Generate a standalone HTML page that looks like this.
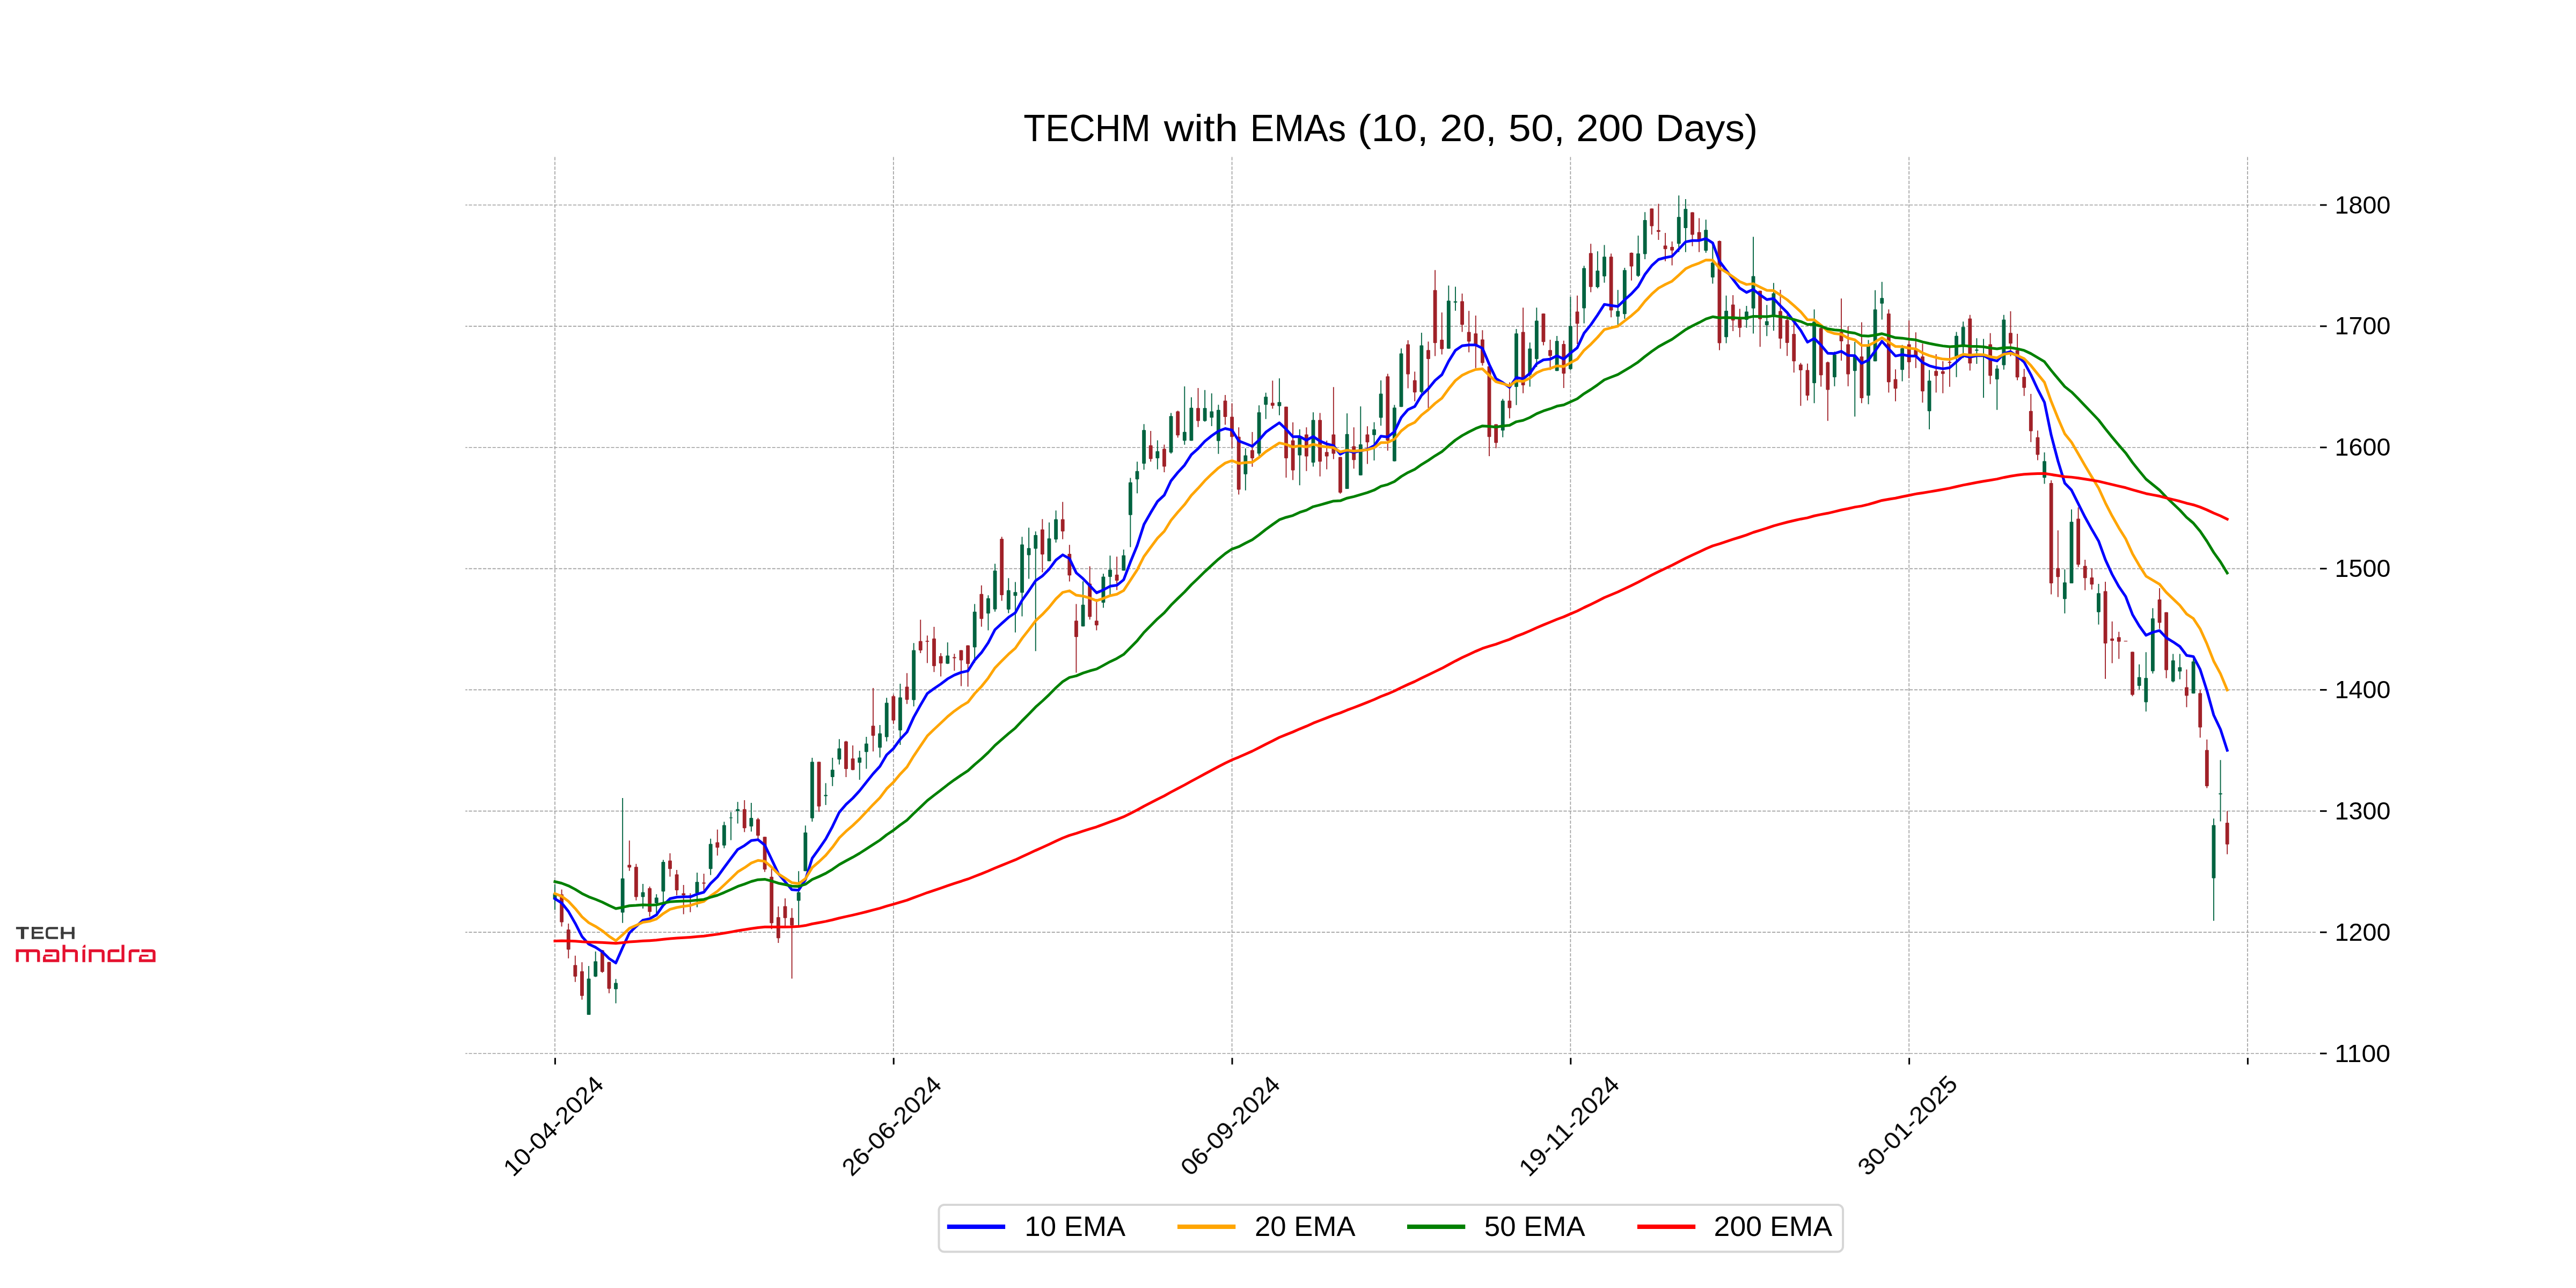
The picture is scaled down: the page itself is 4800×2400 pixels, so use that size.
<!DOCTYPE html><html><head><meta charset="utf-8"><style>html,body{margin:0;padding:0;background:#fff;}svg{display:block;}text{font-family:"Liberation Sans",sans-serif;} svg{-webkit-font-smoothing:antialiased;}</style></head><body>
<svg width="4800" height="2400" viewBox="0 0 4800 2400">
<defs><filter id="gs" x="-5%" y="-50%" width="110%" height="200%"><feColorMatrix type="saturate" values="0"/></filter></defs><rect width="4800" height="2400" fill="#fff"/>
<g stroke="#a0a0a0" stroke-width="1.67" fill="none" stroke-dasharray="6.165 2.666">
<line x1="1034.00" y1="1964.6" x2="1034.00" y2="292.10" stroke-dashoffset="3.2"/>
<line x1="1664.80" y1="1964.6" x2="1664.80" y2="292.10" stroke-dashoffset="3.2"/>
<line x1="2295.60" y1="1964.6" x2="2295.60" y2="292.10" stroke-dashoffset="3.2"/>
<line x1="2926.40" y1="1964.6" x2="2926.40" y2="292.10" stroke-dashoffset="3.2"/>
<line x1="3557.20" y1="1964.6" x2="3557.20" y2="292.10" stroke-dashoffset="3.2"/>
<line x1="4188.00" y1="1964.6" x2="4188.00" y2="292.10" stroke-dashoffset="3.2"/>
<line x1="867.20" y1="1963.00" x2="4316.00" y2="1963.00" stroke-dashoffset="2.531"/>
<line x1="867.20" y1="1737.14" x2="4316.00" y2="1737.14" stroke-dashoffset="2.531"/>
<line x1="867.20" y1="1511.29" x2="4316.00" y2="1511.29" stroke-dashoffset="2.531"/>
<line x1="867.20" y1="1285.43" x2="4316.00" y2="1285.43" stroke-dashoffset="2.531"/>
<line x1="867.20" y1="1059.57" x2="4316.00" y2="1059.57" stroke-dashoffset="2.531"/>
<line x1="867.20" y1="833.71" x2="4316.00" y2="833.71" stroke-dashoffset="2.531"/>
<line x1="867.20" y1="607.86" x2="4316.00" y2="607.86" stroke-dashoffset="2.531"/>
<line x1="867.20" y1="382.00" x2="4316.00" y2="382.00" stroke-dashoffset="2.531"/>
</g>
<g stroke="#000" stroke-width="3">
<line x1="1034.40" y1="1971.2" x2="1034.40" y2="1983.5"/>
<line x1="1665.20" y1="1971.2" x2="1665.20" y2="1983.5"/>
<line x1="2296.00" y1="1971.2" x2="2296.00" y2="1983.5"/>
<line x1="2926.80" y1="1971.2" x2="2926.80" y2="1983.5"/>
<line x1="3557.60" y1="1971.2" x2="3557.60" y2="1983.5"/>
<line x1="4188.40" y1="1971.2" x2="4188.40" y2="1983.5"/>
<line x1="4323" y1="1963.00" x2="4335.6" y2="1963.00"/>
<line x1="4323" y1="1737.14" x2="4335.6" y2="1737.14"/>
<line x1="4323" y1="1511.29" x2="4335.6" y2="1511.29"/>
<line x1="4323" y1="1285.43" x2="4335.6" y2="1285.43"/>
<line x1="4323" y1="1059.57" x2="4335.6" y2="1059.57"/>
<line x1="4323" y1="833.71" x2="4335.6" y2="833.71"/>
<line x1="4323" y1="607.86" x2="4335.6" y2="607.86"/>
<line x1="4323" y1="382.00" x2="4335.6" y2="382.00"/>
</g>
<g fill="#000" filter="url(#gs)">
<text x="4350.33" y="1978.60" font-size="45.71" textLength="103.92" lengthAdjust="spacingAndGlyphs">1100</text>
<text x="4350.46" y="1752.74" font-size="45.71" textLength="103.92" lengthAdjust="spacingAndGlyphs">1200</text>
<text x="4350.46" y="1526.88" font-size="45.71" textLength="103.92" lengthAdjust="spacingAndGlyphs">1300</text>
<text x="4350.46" y="1301.03" font-size="45.71" textLength="103.92" lengthAdjust="spacingAndGlyphs">1400</text>
<text x="4350.46" y="1075.17" font-size="45.71" textLength="103.92" lengthAdjust="spacingAndGlyphs">1500</text>
<text x="4350.46" y="849.31" font-size="45.71" textLength="103.92" lengthAdjust="spacingAndGlyphs">1600</text>
<text x="4350.46" y="623.46" font-size="45.71" textLength="103.92" lengthAdjust="spacingAndGlyphs">1700</text>
<text x="4350.46" y="397.60" font-size="45.71" textLength="103.92" lengthAdjust="spacingAndGlyphs">1800</text>
</g>
<g fill="#000" filter="url(#gs)">
<g transform="translate(1031.70,2097.00) rotate(-45)"><text x="-122.28" y="15.50" font-size="44.29" textLength="241.98" lengthAdjust="spacingAndGlyphs">10-04-2024</text></g>
<g transform="translate(1661.30,2097.00) rotate(-45)"><text x="-120.85" y="15.50" font-size="44.29" textLength="240.54" lengthAdjust="spacingAndGlyphs">26-06-2024</text></g>
<g transform="translate(2292.10,2097.00) rotate(-45)"><text x="-120.38" y="15.50" font-size="44.29" textLength="240.07" lengthAdjust="spacingAndGlyphs">06-09-2024</text></g>
<g transform="translate(2924.10,2097.00) rotate(-45)"><text x="-122.35" y="15.50" font-size="44.29" textLength="242.34" lengthAdjust="spacingAndGlyphs">19-11-2024</text></g>
<g transform="translate(3553.70,2097.00) rotate(-45)"><text x="-120.38" y="15.50" font-size="44.29" textLength="241.02" lengthAdjust="spacingAndGlyphs">30-01-2025</text></g>
</g>
<g filter="url(#gs)">
<text x="1907.27" y="263.10" font-size="70.14" textLength="236.81" lengthAdjust="spacingAndGlyphs" fill="#000">TECHM</text>
<text x="2168.80" y="263.10" font-size="70.14" textLength="138.32" lengthAdjust="spacingAndGlyphs" fill="#000">with</text>
<text x="2329.44" y="263.10" font-size="70.14" textLength="178.74" lengthAdjust="spacingAndGlyphs" fill="#000">EMAs</text>
<text x="2529.69" y="263.10" font-size="70.14" textLength="132.26" lengthAdjust="spacingAndGlyphs" fill="#000">(10,</text>
<text x="2682.99" y="263.10" font-size="70.14" textLength="105.99" lengthAdjust="spacingAndGlyphs" fill="#000">20,</text>
<text x="2810.88" y="263.10" font-size="70.14" textLength="105.03" lengthAdjust="spacingAndGlyphs" fill="#000">50,</text>
<text x="2936.94" y="263.10" font-size="70.14" textLength="125.46" lengthAdjust="spacingAndGlyphs" fill="#000">200</text>
<text x="3084.87" y="263.10" font-size="70.14" textLength="190.41" lengthAdjust="spacingAndGlyphs" fill="#000">Days)</text>
</g>
<path d="M1034.00 1648.32V1695.53M1097.08 1799.88V1891.06M1109.70 1773.04V1820.50M1147.54 1824.22V1869.44M1160.16 1486.96V1719.63M1198.01 1647.08V1693.04M1223.24 1666.21V1701.74M1235.86 1602.36V1681.12M1298.94 1625.96V1690.56M1324.17 1562.73V1630.43M1349.40 1531.24V1580.43M1362.02 1513.35V1565.53M1374.63 1494.22V1534.47M1399.86 1495.96V1549.38M1488.18 1623.17V1725.28M1500.79 1538.20V1623.17M1513.41 1412.05V1530.93M1538.64 1459.13V1499.88M1551.26 1411.99V1464.80M1563.87 1377.20V1424.41M1601.72 1399.07V1452.98M1614.34 1372.98V1432.61M1639.57 1351.12V1411.49M1652.18 1300.19V1381.43M1677.42 1274.10V1387.89M1702.65 1198.32V1316.34M1765.73 1197.08V1237.33M1816.19 1125.47V1234.78M1841.42 1109.32V1174.41M1854.04 1050.43V1139.63M1879.27 1077.27V1142.61M1891.89 1084.47V1178.39M1904.50 1000.25V1148.57M1917.12 983.35V1078.51M1929.74 990.31V1213.17M1954.97 973.42V1045.71M1967.58 951.30V1010.93M2018.05 1083.23V1167.20M2055.90 1069.07V1132.42M2068.51 1035.28V1108.82M2093.74 1024.10V1063.35M2106.36 890.56V1019.38M2118.98 860.25V919.13M2131.59 790.19V875.16M2156.82 820.50V874.41M2182.06 769.57V845.34M2207.29 719.88V828.70M2219.90 740.25V821.24M2245.14 726.83V785.71M2257.75 733.04V793.91M2270.37 754.16V845.84M2320.83 835.40V913.66M2346.06 755.16V849.07M2358.68 731.80V780.75M2383.91 704.97V773.79M2421.76 800.00V904.35M2446.99 768.20V869.57M2510.07 770.19V911.06M2535.30 757.27V885.71M2560.54 786.83V857.89M2573.15 708.82V793.29M2598.38 754.53V859.63M2611.00 649.19V758.26M2648.85 619.88V732.92M2699.31 532.00V649.70M2711.93 534.20V579.00M2800.24 743.35V814.78M2825.47 613.04V754.66M2850.70 638.26V720.50M2863.32 573.17V683.73M2901.17 626.09V691.18M2926.40 553.29V689.44M2951.63 495.16V602.48M2976.86 468.32V537.14M2989.48 456.40V526.71M3014.71 540.37V605.71M3027.33 499.07V593.98M3052.56 438.94V515.96M3065.18 395.22V482.92M3128.26 364.16V469.75M3140.87 371.12V469.75M3178.72 409.13V470.99M3191.34 456.83V528.39M3216.57 550.75V639.44M3254.42 569.88V610.87M3267.03 441.18V621.55M3292.26 568.14V626.27M3304.88 527.20V616.15M3380.58 576.40V751.30M3418.42 655.16V719.75M3456.27 637.02V776.15M3481.50 633.54V753.29M3494.12 540.87V673.29M3506.74 525.22V595.53M3544.58 642.73V710.56M3595.05 689.44V800.00M3645.51 618.39V702.86M3658.13 599.25V667.33M3683.36 630.31V678.01M3695.98 631.55V741.37M3721.21 680.50V763.73M3733.82 586.83V688.70M3809.52 843.11V901.49M3847.37 1060.99V1142.98M3859.98 949.19V1087.08M3910.45 1088.01V1163.79M3986.14 1238.07V1284.78M3998.76 1215.22V1325.78M4011.38 1133.23V1254.97M4049.22 1218.45V1271.61M4061.84 1218.45V1265.65M4087.07 1227.64V1292.24M4124.92 1525.20V1715.80M4137.54 1416.20V1530.50" stroke="#006340" stroke-width="1.86" fill="none"/>
<path d="M1046.62 1657.52V1726.58M1059.23 1721.12V1785.71M1071.85 1780.75V1829.69M1084.46 1792.92V1862.73M1122.31 1770.06V1812.80M1134.93 1792.42V1850.81M1172.78 1566.21V1622.73M1185.39 1609.81V1677.64M1210.62 1652.05V1707.95M1248.47 1590.06V1633.42M1261.09 1620.99V1668.20M1273.70 1649.07V1703.48M1286.32 1664.47V1699.75M1311.55 1627.95V1664.47M1336.78 1545.84V1594.29M1387.25 1490.99V1550.62M1412.48 1524.04V1563.04M1425.10 1559.32V1624.66M1437.71 1618.94V1731.24M1450.33 1689.01V1756.90M1462.94 1674.10V1725.28M1475.56 1692.24V1823.60M1526.02 1419.50V1512.67M1576.49 1380.43V1448.01M1589.10 1389.07V1435.28M1626.95 1282.05V1400.31M1664.80 1294.47V1348.63M1690.03 1254.22V1311.86M1715.26 1154.84V1216.96M1727.88 1184.16V1235.59M1740.50 1168.01V1252.24M1753.11 1216.96V1260.43M1778.34 1218.20V1249.75M1790.96 1211.49V1278.57M1803.58 1202.48V1279.50M1828.81 1090.68V1167.70M1866.66 1000.25V1119.50M1942.35 967.20V1066.58M1980.20 935.16V1004.72M1992.82 1015.16V1083.48M2005.43 1125.47V1253.42M2030.66 1055.16V1154.53M2043.28 1116.27V1174.41M2081.13 1037.27V1099.38M2144.21 803.11V860.25M2169.44 828.45V880.12M2194.67 765.34V815.53M2232.52 723.11V795.65M2282.98 736.02V791.43M2295.60 751.43V835.40M2308.22 796.15V921.61M2333.45 805.09V869.69M2371.30 709.19V761.61M2396.53 757.64V890.06M2409.14 786.96V894.53M2434.38 796.27V877.76M2459.61 769.44V887.70M2472.22 821.12V874.53M2484.84 721.24V855.40M2497.46 851.43V920.00M2522.69 796.27V873.29M2547.92 794.29V864.60M2585.77 696.40V839.75M2623.62 634.04V723.48M2636.23 692.42V747.83M2661.46 636.52V760.25M2674.08 503.20V663.40M2686.70 582.30V660.40M2724.54 547.10V618.60M2737.16 579.20V656.52M2749.78 588.10V685.71M2762.39 615.16V681.37M2775.01 678.00V850.00M2787.62 790.56V835.28M2812.86 712.55V779.38M2838.09 573.20V732.67M2875.94 584.35V643.48M2888.55 633.04V689.44M2913.78 634.78V722.98M2939.02 550.81V640.99M2964.25 454.16V544.60M3002.10 472.55V591.30M3039.94 470.50V522.67M3077.79 388.51V436.96M3090.41 379.81V446.89M3103.02 433.98V486.65M3115.64 449.88V494.60M3153.49 395.47V458.82M3166.10 406.40V469.75M3203.95 448.14V652.61M3229.18 550.00V617.08M3241.80 575.59V628.26M3279.65 541.80V646.15M3317.50 540.12V649.69M3330.11 586.83V663.35M3342.73 601.74V694.16M3355.34 676.27V756.27M3367.96 677.52V746.34M3393.19 604.22V720.50M3405.81 673.79V784.35M3431.04 556.27V672.05M3443.66 607.95V719.75M3468.89 600.50V751.30M3519.35 576.40V731.43M3531.97 688.20V747.83M3557.20 597.27V704.84M3569.82 619.13V685.71M3582.43 640.25V750.31M3607.66 660.12V731.43M3620.28 673.04V732.67M3632.90 646.96V720.75M3670.74 586.83V690.43M3708.59 620.87V715.78M3746.44 579.88V663.85M3759.06 622.11V708.57M3771.67 687.20V737.64M3784.29 733.91V823.85M3796.90 802.24V857.39M3822.14 895.03V1107.45M3834.75 988.20V1112.42M3872.60 945.47V1056.52M3885.22 1043.11V1099.69M3897.83 1059.19V1098.45M3923.06 1084.04V1264.91M3935.68 1158.07V1235.84M3948.30 1177.20V1227.64M3960.91 1194.10V1195.09M3973.53 1214.47V1297.20M4023.99 1095.96V1171.74M4036.61 1140.68V1263.66M4074.46 1247.52V1317.83M4099.69 1285.40V1374.60M4112.30 1378.00V1468.40M4150.15 1511.20V1591.70" stroke="#a02128" stroke-width="1.86" fill="none"/>
<g fill="#006340"><rect x="1030.59" y="1664.47" width="6.83" height="11.18" rx="1"/><rect x="1093.66" y="1823.48" width="6.83" height="67.58" rx="1"/><rect x="1106.28" y="1791.18" width="6.83" height="28.57" rx="1"/><rect x="1144.13" y="1831.43" width="6.83" height="11.93" rx="1"/><rect x="1156.75" y="1636.65" width="6.83" height="63.85" rx="1"/><rect x="1194.59" y="1662.48" width="6.83" height="8.94" rx="1"/><rect x="1219.83" y="1672.42" width="6.83" height="10.68" rx="1"/><rect x="1232.44" y="1606.09" width="6.83" height="55.16" rx="1"/><rect x="1295.52" y="1643.35" width="6.83" height="21.12" rx="1"/><rect x="1320.75" y="1572.42" width="6.83" height="46.83" rx="1"/><rect x="1345.99" y="1537.45" width="6.83" height="38.01" rx="1"/><rect x="1358.60" y="1523.29" width="6.83" height="1.24" rx="1"/><rect x="1371.22" y="1507.64" width="6.83" height="3.73" rx="1"/><rect x="1396.45" y="1524.04" width="6.83" height="15.90" rx="1"/><rect x="1484.76" y="1662.42" width="6.83" height="16.15" rx="1"/><rect x="1497.38" y="1551.37" width="6.83" height="71.80" rx="1"/><rect x="1509.99" y="1419.50" width="6.83" height="105.22" rx="1"/><rect x="1535.22" y="1481.24" width="6.83" height="2.24" rx="1"/><rect x="1547.84" y="1434.35" width="6.83" height="13.66" rx="1"/><rect x="1560.46" y="1394.60" width="6.83" height="20.62" rx="1"/><rect x="1598.31" y="1411.49" width="6.83" height="9.69" rx="1"/><rect x="1610.92" y="1385.40" width="6.83" height="15.90" rx="1"/><rect x="1636.15" y="1366.52" width="6.83" height="26.83" rx="1"/><rect x="1648.77" y="1309.38" width="6.83" height="64.10" rx="1"/><rect x="1674.00" y="1299.44" width="6.83" height="61.61" rx="1"/><rect x="1699.23" y="1211.49" width="6.83" height="92.92" rx="1"/><rect x="1762.31" y="1221.43" width="6.83" height="15.40" rx="1"/><rect x="1812.78" y="1139.63" width="6.83" height="66.58" rx="1"/><rect x="1838.01" y="1114.78" width="6.83" height="28.57" rx="1"/><rect x="1850.62" y="1063.35" width="6.83" height="72.05" rx="1"/><rect x="1875.86" y="1099.63" width="6.83" height="36.02" rx="1"/><rect x="1888.47" y="1103.35" width="6.83" height="6.96" rx="1"/><rect x="1901.09" y="1014.41" width="6.83" height="90.19" rx="1"/><rect x="1913.70" y="1021.37" width="6.83" height="13.17" rx="1"/><rect x="1926.32" y="997.02" width="6.83" height="25.59" rx="1"/><rect x="1951.55" y="1003.23" width="6.83" height="42.48" rx="1"/><rect x="1964.17" y="967.45" width="6.83" height="37.76" rx="1"/><rect x="2014.63" y="1126.71" width="6.83" height="40.50" rx="1"/><rect x="2052.48" y="1074.53" width="6.83" height="48.45" rx="1"/><rect x="2065.10" y="1061.61" width="6.83" height="13.42" rx="1"/><rect x="2090.33" y="1034.78" width="6.83" height="28.57" rx="1"/><rect x="2102.94" y="898.76" width="6.83" height="60.87" rx="1"/><rect x="2115.56" y="877.64" width="6.83" height="15.65" rx="1"/><rect x="2128.18" y="801.37" width="6.83" height="62.61" rx="1"/><rect x="2153.41" y="840.87" width="6.83" height="13.17" rx="1"/><rect x="2178.64" y="775.28" width="6.83" height="68.07" rx="1"/><rect x="2203.87" y="804.84" width="6.83" height="16.40" rx="1"/><rect x="2216.49" y="759.63" width="6.83" height="61.61" rx="1"/><rect x="2241.72" y="760.37" width="6.83" height="24.10" rx="1"/><rect x="2254.34" y="766.58" width="6.83" height="11.68" rx="1"/><rect x="2266.95" y="763.85" width="6.83" height="57.89" rx="1"/><rect x="2317.42" y="848.57" width="6.83" height="35.28" rx="1"/><rect x="2342.65" y="768.32" width="6.83" height="77.02" rx="1"/><rect x="2355.27" y="739.25" width="6.83" height="14.91" rx="1"/><rect x="2380.50" y="749.19" width="6.83" height="7.45" rx="1"/><rect x="2418.35" y="812.42" width="6.83" height="36.02" rx="1"/><rect x="2443.58" y="782.61" width="6.83" height="79.50" rx="1"/><rect x="2506.66" y="808.70" width="6.83" height="102.36" rx="1"/><rect x="2531.89" y="828.07" width="6.83" height="57.64" rx="1"/><rect x="2557.12" y="800.00" width="6.83" height="10.68" rx="1"/><rect x="2569.74" y="733.42" width="6.83" height="44.97" rx="1"/><rect x="2594.97" y="759.50" width="6.83" height="100.12" rx="1"/><rect x="2607.59" y="658.39" width="6.83" height="99.88" rx="1"/><rect x="2645.43" y="643.48" width="6.83" height="86.96" rx="1"/><rect x="2695.90" y="560.30" width="6.83" height="89.40" rx="1"/><rect x="2708.51" y="561.60" width="6.83" height="2.10" rx="1"/><rect x="2796.82" y="746.46" width="6.83" height="55.90" rx="1"/><rect x="2822.06" y="621.37" width="6.83" height="99.75" rx="1"/><rect x="2847.29" y="649.44" width="6.83" height="48.70" rx="1"/><rect x="2859.90" y="597.52" width="6.83" height="71.55" rx="1"/><rect x="2897.75" y="635.28" width="6.83" height="55.90" rx="1"/><rect x="2922.98" y="607.45" width="6.83" height="80.25" rx="1"/><rect x="2948.22" y="499.38" width="6.83" height="75.03" rx="1"/><rect x="2973.45" y="504.35" width="6.83" height="30.56" rx="1"/><rect x="2986.07" y="478.26" width="6.83" height="36.77" rx="1"/><rect x="3011.30" y="579.38" width="6.83" height="10.68" rx="1"/><rect x="3023.91" y="503.29" width="6.83" height="81.99" rx="1"/><rect x="3049.14" y="472.24" width="6.83" height="41.74" rx="1"/><rect x="3061.76" y="410.12" width="6.83" height="63.35" rx="1"/><rect x="3124.84" y="404.16" width="6.83" height="50.19" rx="1"/><rect x="3137.46" y="389.25" width="6.83" height="35.78" rx="1"/><rect x="3175.30" y="428.26" width="6.83" height="39.01" rx="1"/><rect x="3187.92" y="489.13" width="6.83" height="27.83" rx="1"/><rect x="3213.15" y="579.07" width="6.83" height="49.19" rx="1"/><rect x="3251.00" y="580.56" width="6.83" height="15.40" rx="1"/><rect x="3263.62" y="514.47" width="6.83" height="60.37" rx="1"/><rect x="3288.85" y="598.45" width="6.83" height="7.45" rx="1"/><rect x="3301.47" y="546.58" width="6.83" height="42.73" rx="1"/><rect x="3377.16" y="599.25" width="6.83" height="114.78" rx="1"/><rect x="3415.01" y="660.87" width="6.83" height="42.24" rx="1"/><rect x="3452.86" y="663.85" width="6.83" height="27.33" rx="1"/><rect x="3478.09" y="643.98" width="6.83" height="93.17" rx="1"/><rect x="3490.70" y="576.40" width="6.83" height="96.89" rx="1"/><rect x="3503.32" y="555.28" width="6.83" height="10.43" rx="1"/><rect x="3541.17" y="648.94" width="6.83" height="40.25" rx="1"/><rect x="3591.63" y="709.32" width="6.83" height="56.89" rx="1"/><rect x="3642.10" y="625.84" width="6.83" height="38.51" rx="1"/><rect x="3654.71" y="609.19" width="6.83" height="37.27" rx="1"/><rect x="3679.95" y="651.43" width="6.83" height="1.99" rx="1"/><rect x="3692.56" y="661.86" width="6.83" height="1.99" rx="1"/><rect x="3717.79" y="686.71" width="6.83" height="20.37" rx="1"/><rect x="3730.41" y="595.53" width="6.83" height="84.97" rx="1"/><rect x="3806.11" y="859.25" width="6.83" height="31.06" rx="1"/><rect x="3843.95" y="1085.34" width="6.83" height="30.81" rx="1"/><rect x="3856.57" y="972.30" width="6.83" height="114.78" rx="1"/><rect x="3907.03" y="1105.16" width="6.83" height="35.53" rx="1"/><rect x="3982.73" y="1261.68" width="6.83" height="16.40" rx="1"/><rect x="3995.34" y="1263.17" width="6.83" height="45.22" rx="1"/><rect x="4007.96" y="1152.36" width="6.83" height="98.39" rx="1"/><rect x="4045.81" y="1230.62" width="6.83" height="39.25" rx="1"/><rect x="4058.43" y="1243.29" width="6.83" height="7.95" rx="1"/><rect x="4083.66" y="1232.61" width="6.83" height="59.63" rx="1"/><rect x="4121.51" y="1537.60" width="6.83" height="99.00" rx="1"/><rect x="4134.12" y="1478.20" width="6.83" height="2.10" rx="1"/></g>
<g fill="#a02128"><rect x="1043.20" y="1666.46" width="6.83" height="51.93" rx="1"/><rect x="1055.82" y="1732.05" width="6.83" height="37.52" rx="1"/><rect x="1068.43" y="1798.14" width="6.83" height="21.61" rx="1"/><rect x="1081.05" y="1809.81" width="6.83" height="45.96" rx="1"/><rect x="1118.90" y="1770.81" width="6.83" height="40.25" rx="1"/><rect x="1131.51" y="1792.42" width="6.83" height="50.19" rx="1"/><rect x="1169.36" y="1611.55" width="6.83" height="4.97" rx="1"/><rect x="1181.98" y="1615.28" width="6.83" height="56.15" rx="1"/><rect x="1207.21" y="1655.03" width="6.83" height="44.22" rx="1"/><rect x="1245.06" y="1603.60" width="6.83" height="15.65" rx="1"/><rect x="1257.67" y="1629.19" width="6.83" height="29.81" rx="1"/><rect x="1270.29" y="1664.47" width="6.83" height="3.73" rx="1"/><rect x="1282.90" y="1668.20" width="6.83" height="3.23" rx="1"/><rect x="1308.14" y="1644.60" width="6.83" height="1.99" rx="1"/><rect x="1333.37" y="1569.44" width="6.83" height="9.94" rx="1"/><rect x="1383.83" y="1507.64" width="6.83" height="35.53" rx="1"/><rect x="1409.07" y="1526.52" width="6.83" height="30.81" rx="1"/><rect x="1421.68" y="1559.32" width="6.83" height="60.87" rx="1"/><rect x="1434.30" y="1633.85" width="6.83" height="86.46" rx="1"/><rect x="1446.91" y="1708.88" width="6.83" height="39.42" rx="1"/><rect x="1459.53" y="1688.51" width="6.83" height="22.36" rx="1"/><rect x="1472.14" y="1710.37" width="6.83" height="14.16" rx="1"/><rect x="1522.61" y="1419.50" width="6.83" height="83.23" rx="1"/><rect x="1573.07" y="1381.43" width="6.83" height="51.68" rx="1"/><rect x="1585.69" y="1413.29" width="6.83" height="21.37" rx="1"/><rect x="1623.54" y="1352.36" width="6.83" height="18.63" rx="1"/><rect x="1661.38" y="1297.20" width="6.83" height="45.22" rx="1"/><rect x="1686.62" y="1279.57" width="6.83" height="24.35" rx="1"/><rect x="1711.85" y="1194.60" width="6.83" height="17.39" rx="1"/><rect x="1724.47" y="1194.10" width="6.83" height="1.74" rx="1"/><rect x="1737.08" y="1189.63" width="6.83" height="51.68" rx="1"/><rect x="1749.70" y="1222.42" width="6.83" height="13.91" rx="1"/><rect x="1774.93" y="1224.41" width="6.83" height="1.99" rx="1"/><rect x="1787.55" y="1211.49" width="6.83" height="19.13" rx="1"/><rect x="1800.16" y="1202.48" width="6.83" height="34.78" rx="1"/><rect x="1825.39" y="1106.83" width="6.83" height="46.46" rx="1"/><rect x="1863.24" y="1003.98" width="6.83" height="105.09" rx="1"/><rect x="1938.94" y="986.58" width="6.83" height="46.71" rx="1"/><rect x="1976.78" y="967.45" width="6.83" height="22.86" rx="1"/><rect x="1989.40" y="1032.05" width="6.83" height="40.25" rx="1"/><rect x="2002.02" y="1156.52" width="6.83" height="30.56" rx="1"/><rect x="2027.25" y="1087.45" width="6.83" height="62.11" rx="1"/><rect x="2039.87" y="1156.52" width="6.83" height="8.70" rx="1"/><rect x="2077.71" y="1070.81" width="6.83" height="11.18" rx="1"/><rect x="2140.79" y="829.69" width="6.83" height="25.59" rx="1"/><rect x="2166.03" y="836.15" width="6.83" height="33.29" rx="1"/><rect x="2191.26" y="766.58" width="6.83" height="44.72" rx="1"/><rect x="2229.11" y="760.37" width="6.83" height="24.10" rx="1"/><rect x="2279.57" y="746.46" width="6.83" height="30.56" rx="1"/><rect x="2292.18" y="776.52" width="6.83" height="37.76" rx="1"/><rect x="2304.80" y="813.79" width="6.83" height="98.63" rx="1"/><rect x="2330.03" y="838.63" width="6.83" height="15.40" rx="1"/><rect x="2367.88" y="750.43" width="6.83" height="5.47" rx="1"/><rect x="2393.11" y="757.64" width="6.83" height="96.40" rx="1"/><rect x="2405.73" y="820.50" width="6.83" height="55.90" rx="1"/><rect x="2430.96" y="809.44" width="6.83" height="40.99" rx="1"/><rect x="2456.19" y="782.61" width="6.83" height="77.76" rx="1"/><rect x="2468.81" y="842.24" width="6.83" height="8.20" rx="1"/><rect x="2481.43" y="809.44" width="6.83" height="36.02" rx="1"/><rect x="2494.04" y="851.43" width="6.83" height="66.58" rx="1"/><rect x="2519.27" y="831.55" width="6.83" height="25.59" rx="1"/><rect x="2544.51" y="809.44" width="6.83" height="14.91" rx="1"/><rect x="2582.35" y="701.37" width="6.83" height="119.75" rx="1"/><rect x="2620.20" y="641.49" width="6.83" height="55.90" rx="1"/><rect x="2632.82" y="708.57" width="6.83" height="22.61" rx="1"/><rect x="2658.05" y="652.17" width="6.83" height="16.89" rx="1"/><rect x="2670.66" y="540.40" width="6.83" height="98.90" rx="1"/><rect x="2683.28" y="633.00" width="6.83" height="17.40" rx="1"/><rect x="2721.13" y="561.20" width="6.83" height="44.10" rx="1"/><rect x="2733.74" y="618.39" width="6.83" height="18.01" rx="1"/><rect x="2746.36" y="621.37" width="6.83" height="21.49" rx="1"/><rect x="2758.98" y="632.55" width="6.83" height="43.85" rx="1"/><rect x="2771.59" y="682.48" width="6.83" height="131.68" rx="1"/><rect x="2784.21" y="790.56" width="6.83" height="34.78" rx="1"/><rect x="2809.44" y="746.46" width="6.83" height="14.04" rx="1"/><rect x="2834.67" y="618.39" width="6.83" height="99.63" rx="1"/><rect x="2872.52" y="584.35" width="6.83" height="52.92" rx="1"/><rect x="2885.14" y="652.17" width="6.83" height="11.18" rx="1"/><rect x="2910.37" y="640.99" width="6.83" height="55.16" rx="1"/><rect x="2935.60" y="580.62" width="6.83" height="22.61" rx="1"/><rect x="2960.83" y="471.55" width="6.83" height="63.11" rx="1"/><rect x="2998.68" y="478.26" width="6.83" height="100.12" rx="1"/><rect x="3036.53" y="470.99" width="6.83" height="25.59" rx="1"/><rect x="3074.38" y="388.51" width="6.83" height="33.04" rx="1"/><rect x="3086.99" y="428.76" width="6.83" height="3.23" rx="1"/><rect x="3099.61" y="457.58" width="6.83" height="6.71" rx="1"/><rect x="3112.22" y="460.06" width="6.83" height="6.71" rx="1"/><rect x="3150.07" y="395.47" width="6.83" height="41.99" rx="1"/><rect x="3162.69" y="432.48" width="6.83" height="15.65" rx="1"/><rect x="3200.54" y="448.88" width="6.83" height="190.56" rx="1"/><rect x="3225.77" y="567.39" width="6.83" height="29.81" rx="1"/><rect x="3238.38" y="594.72" width="6.83" height="16.15" rx="1"/><rect x="3276.23" y="541.80" width="6.83" height="52.92" rx="1"/><rect x="3314.08" y="579.38" width="6.83" height="51.68" rx="1"/><rect x="3326.70" y="596.27" width="6.83" height="42.73" rx="1"/><rect x="3339.31" y="622.36" width="6.83" height="50.93" rx="1"/><rect x="3351.93" y="679.25" width="6.83" height="10.68" rx="1"/><rect x="3364.55" y="689.44" width="6.83" height="47.70" rx="1"/><rect x="3389.78" y="611.18" width="6.83" height="87.95" rx="1"/><rect x="3402.39" y="675.03" width="6.83" height="51.43" rx="1"/><rect x="3427.62" y="618.63" width="6.83" height="17.39" rx="1"/><rect x="3440.24" y="641.49" width="6.83" height="55.90" rx="1"/><rect x="3465.47" y="664.35" width="6.83" height="77.76" rx="1"/><rect x="3515.94" y="584.35" width="6.83" height="127.95" rx="1"/><rect x="3528.55" y="706.58" width="6.83" height="17.64" rx="1"/><rect x="3553.78" y="641.49" width="6.83" height="33.54" rx="1"/><rect x="3566.40" y="651.43" width="6.83" height="12.42" rx="1"/><rect x="3579.02" y="664.35" width="6.83" height="64.84" rx="1"/><rect x="3604.25" y="691.18" width="6.83" height="9.44" rx="1"/><rect x="3616.86" y="691.68" width="6.83" height="4.97" rx="1"/><rect x="3629.48" y="674.29" width="6.83" height="1.99" rx="1"/><rect x="3667.33" y="593.54" width="6.83" height="83.73" rx="1"/><rect x="3705.18" y="641.49" width="6.83" height="58.88" rx="1"/><rect x="3743.03" y="620.37" width="6.83" height="19.88" rx="1"/><rect x="3755.64" y="652.42" width="6.83" height="50.93" rx="1"/><rect x="3768.26" y="702.36" width="6.83" height="20.37" rx="1"/><rect x="3780.87" y="765.71" width="6.83" height="37.76" rx="1"/><rect x="3793.49" y="814.66" width="6.83" height="32.80" rx="1"/><rect x="3818.72" y="900.00" width="6.83" height="187.08" rx="1"/><rect x="3831.34" y="1058.51" width="6.83" height="16.65" rx="1"/><rect x="3869.18" y="966.58" width="6.83" height="85.71" rx="1"/><rect x="3881.80" y="1054.47" width="6.83" height="22.86" rx="1"/><rect x="3894.42" y="1076.09" width="6.83" height="13.17" rx="1"/><rect x="3919.65" y="1101.43" width="6.83" height="97.64" rx="1"/><rect x="3932.26" y="1189.63" width="6.83" height="4.47" rx="1"/><rect x="3944.88" y="1187.14" width="6.83" height="8.70" rx="1"/><rect x="3957.50" y="1194.10" width="6.83" height="1.20" rx="1"/><rect x="3970.11" y="1214.47" width="6.83" height="80.25" rx="1"/><rect x="4020.58" y="1117.08" width="6.83" height="43.48" rx="1"/><rect x="4033.19" y="1140.68" width="6.83" height="108.07" rx="1"/><rect x="4071.04" y="1280.56" width="6.83" height="15.90" rx="1"/><rect x="4096.27" y="1291.60" width="6.83" height="64.00" rx="1"/><rect x="4108.89" y="1397.50" width="6.83" height="67.50" rx="1"/><rect x="4146.74" y="1533.10" width="6.83" height="40.40" rx="1"/></g>
<polyline points="1034.00,1674.60 1046.62,1682.56 1059.23,1698.38 1071.85,1720.45 1084.46,1745.05 1097.08,1759.31 1109.70,1765.11 1122.31,1773.46 1134.93,1786.03 1147.54,1794.29 1160.16,1765.62 1172.78,1738.52 1185.39,1726.32 1198.01,1714.71 1210.62,1711.90 1223.24,1704.72 1235.86,1686.79 1248.47,1674.51 1261.09,1671.69 1273.70,1671.06 1286.32,1671.12 1298.94,1666.07 1311.55,1662.53 1324.17,1646.15 1336.78,1634.01 1349.40,1616.45 1362.02,1599.51 1374.63,1582.81 1387.25,1575.60 1399.86,1566.23 1412.48,1564.61 1425.10,1574.71 1437.71,1601.19 1450.33,1627.93 1462.94,1643.01 1475.56,1657.84 1488.18,1658.67 1500.79,1639.16 1513.41,1599.22 1526.02,1581.68 1538.64,1563.42 1551.26,1539.95 1563.87,1513.52 1576.49,1498.90 1589.10,1487.22 1601.72,1473.45 1614.34,1457.44 1626.95,1441.72 1639.57,1428.05 1652.18,1406.47 1664.80,1394.83 1677.42,1377.49 1690.03,1364.11 1702.65,1336.36 1715.26,1313.75 1727.88,1292.31 1740.50,1283.04 1753.11,1274.54 1765.73,1264.89 1778.34,1257.89 1790.96,1252.93 1803.58,1250.08 1816.19,1230.00 1828.81,1216.05 1841.42,1197.64 1854.04,1173.22 1866.66,1161.56 1879.27,1150.30 1891.89,1141.76 1904.50,1118.61 1917.12,1100.93 1929.74,1082.04 1942.35,1073.17 1954.97,1060.46 1967.58,1043.55 1980.20,1033.87 1992.82,1040.85 2005.43,1067.44 2018.05,1078.22 2030.66,1091.19 2043.28,1104.65 2055.90,1099.17 2068.51,1092.34 2081.13,1090.46 2093.74,1080.34 2106.36,1047.32 2118.98,1016.47 2131.59,977.36 2144.21,955.17 2156.82,934.38 2169.44,922.58 2182.06,895.80 2194.67,880.43 2207.29,866.69 2219.90,847.22 2232.52,835.81 2245.14,822.10 2257.75,812.00 2270.37,803.25 2282.98,798.48 2295.60,801.35 2308.22,821.55 2320.83,826.46 2333.45,831.48 2346.06,819.99 2358.68,805.31 2371.30,796.33 2383.91,787.76 2396.53,799.81 2409.14,813.73 2421.76,813.50 2434.38,820.21 2446.99,813.38 2459.61,821.92 2472.22,827.10 2484.84,830.44 2497.46,846.36 2510.07,839.52 2522.69,842.72 2535.30,840.06 2547.92,837.20 2560.54,830.44 2573.15,812.80 2585.77,814.31 2598.38,804.35 2611.00,777.81 2623.62,763.19 2636.23,757.37 2648.85,736.66 2661.46,724.37 2674.08,708.90 2686.70,698.27 2699.31,673.18 2711.93,652.89 2724.54,644.24 2737.16,642.81 2749.78,642.82 2762.39,648.93 2775.01,678.97 2787.62,705.58 2800.24,713.01 2812.86,721.65 2825.47,703.41 2838.09,706.07 2850.70,695.77 2863.32,677.91 2875.94,670.52 2888.55,669.22 2901.17,663.05 2913.78,669.06 2926.40,657.86 2939.02,647.93 2951.63,620.92 2964.25,605.24 2976.86,586.89 2989.48,567.14 3002.10,569.19 3014.71,571.04 3027.33,558.72 3039.94,547.42 3052.56,533.75 3065.18,511.28 3077.79,494.96 3090.41,483.51 3103.02,480.02 3115.64,477.61 3128.26,464.25 3140.87,450.62 3153.49,448.22 3166.10,448.21 3178.72,444.58 3191.34,452.68 3203.95,486.64 3216.57,503.44 3229.18,520.49 3241.80,536.92 3254.42,544.86 3267.03,539.33 3279.65,549.40 3292.26,558.32 3304.88,556.19 3317.50,569.80 3330.11,582.38 3342.73,598.91 3355.34,615.46 3367.96,637.59 3380.58,630.62 3393.19,643.07 3405.81,658.23 3418.42,658.71 3431.04,654.59 3443.66,662.37 3456.27,662.64 3468.89,677.09 3481.50,671.07 3494.12,653.86 3506.74,635.93 3519.35,649.82 3531.97,663.35 3544.58,660.73 3557.20,663.33 3569.82,663.42 3582.43,675.38 3595.05,681.55 3607.66,685.02 3620.28,687.13 3632.90,685.16 3645.51,674.37 3658.13,662.52 3670.74,665.20 3683.36,662.70 3695.98,662.55 3708.59,669.42 3721.21,672.57 3733.82,658.56 3746.44,655.23 3759.06,663.98 3771.67,674.66 3784.29,698.08 3796.90,725.24 3809.52,749.61 3822.14,810.97 3834.75,859.00 3847.37,900.15 3859.98,913.27 3872.60,938.55 3885.22,963.78 3897.83,986.59 3910.45,1008.15 3923.06,1042.86 3935.68,1070.36 3948.30,1093.17 3960.91,1111.71 3973.53,1144.98 3986.14,1166.20 3998.76,1183.83 4011.38,1178.11 4023.99,1174.92 4036.61,1188.34 4049.22,1196.03 4061.84,1204.62 4074.46,1221.32 4087.07,1223.37 4099.69,1247.41 4112.30,1286.98 4124.92,1332.54 4137.54,1359.03 4150.15,1398.02" fill="none" stroke="#0000ff" stroke-width="5" stroke-linejoin="round" stroke-linecap="square"/>
<polyline points="1034.00,1665.00 1046.62,1670.08 1059.23,1679.56 1071.85,1692.91 1084.46,1708.42 1097.08,1719.38 1109.70,1726.22 1122.31,1734.30 1134.93,1744.61 1147.54,1752.88 1160.16,1741.81 1172.78,1729.88 1185.39,1724.31 1198.01,1718.42 1210.62,1716.60 1223.24,1712.39 1235.86,1702.27 1248.47,1694.36 1261.09,1690.99 1273.70,1688.82 1286.32,1687.17 1298.94,1682.99 1311.55,1679.53 1324.17,1669.33 1336.78,1660.76 1349.40,1649.02 1362.02,1637.04 1374.63,1624.72 1387.25,1616.95 1399.86,1608.10 1412.48,1603.27 1425.10,1604.88 1437.71,1615.87 1450.33,1628.48 1462.94,1636.33 1475.56,1644.73 1488.18,1646.42 1500.79,1637.36 1513.41,1616.61 1526.02,1605.77 1538.64,1593.91 1551.26,1578.71 1563.87,1561.18 1576.49,1548.98 1589.10,1538.09 1601.72,1526.04 1614.34,1512.64 1626.95,1499.15 1639.57,1486.52 1652.18,1469.65 1664.80,1457.53 1677.42,1442.48 1690.03,1429.28 1702.65,1408.54 1715.26,1389.82 1727.88,1371.34 1740.50,1358.96 1753.11,1347.28 1765.73,1335.30 1778.34,1324.92 1790.96,1315.94 1803.58,1308.45 1816.19,1292.37 1828.81,1279.13 1841.42,1263.47 1854.04,1244.42 1866.66,1231.52 1879.27,1218.96 1891.89,1207.95 1904.50,1189.52 1917.12,1173.51 1929.74,1156.70 1942.35,1144.94 1954.97,1131.45 1967.58,1115.83 1980.20,1103.88 1992.82,1100.87 2005.43,1109.08 2018.05,1110.76 2030.66,1114.45 2043.28,1119.29 2055.90,1115.03 2068.51,1109.94 2081.13,1107.28 2093.74,1100.37 2106.36,1081.17 2118.98,1061.79 2131.59,1036.99 2144.21,1019.68 2156.82,1002.65 2169.44,989.96 2182.06,969.52 2194.67,954.45 2207.29,940.20 2219.90,923.00 2232.52,909.81 2245.14,895.58 2257.75,883.29 2270.37,871.92 2282.98,862.88 2295.60,858.25 2308.22,863.41 2320.83,862.00 2333.45,861.24 2346.06,852.39 2358.68,841.62 2371.30,833.45 2383.91,825.43 2396.53,828.15 2409.14,832.75 2421.76,830.81 2434.38,832.68 2446.99,827.91 2459.61,831.00 2472.22,832.85 2484.84,834.05 2497.46,842.05 2510.07,838.87 2522.69,840.61 2535.30,839.42 2547.92,837.98 2560.54,834.37 2573.15,824.75 2585.77,824.41 2598.38,818.23 2611.00,803.00 2623.62,792.94 2636.23,787.06 2648.85,773.39 2661.46,763.45 2674.08,751.63 2686.70,741.99 2699.31,724.68 2711.93,709.15 2724.54,699.26 2737.16,693.27 2749.78,688.47 2762.39,687.32 2775.01,699.40 2787.62,711.40 2800.24,714.74 2812.86,719.09 2825.47,709.79 2838.09,710.57 2850.70,704.75 2863.32,694.54 2875.94,689.08 2888.55,686.63 2901.17,681.74 2913.78,683.11 2926.40,675.91 2939.02,668.99 2951.63,652.83 2964.25,641.58 2976.86,628.51 2989.48,614.20 3002.10,610.79 3014.71,607.80 3027.33,597.84 3039.94,588.20 3052.56,577.16 3065.18,561.25 3077.79,547.94 3090.41,536.90 3103.02,529.98 3115.64,523.96 3128.26,512.55 3140.87,500.81 3153.49,494.78 3166.10,490.34 3178.72,484.42 3191.34,484.87 3203.95,499.59 3216.57,507.16 3229.18,515.74 3241.80,524.80 3254.42,530.11 3267.03,528.62 3279.65,534.91 3292.26,540.97 3304.88,541.50 3317.50,550.03 3330.11,558.50 3342.73,569.44 3355.34,580.91 3367.96,595.79 3380.58,596.12 3393.19,605.93 3405.81,617.41 3418.42,621.55 3431.04,622.93 3443.66,630.02 3456.27,633.24 3468.89,643.61 3481.50,643.65 3494.12,637.24 3506.74,629.43 3519.35,637.33 3531.97,645.60 3544.58,645.92 3557.20,648.69 3569.82,650.14 3582.43,657.67 3595.05,662.58 3607.66,666.21 3620.28,669.11 3632.90,669.79 3645.51,665.60 3658.13,660.23 3670.74,661.85 3683.36,660.86 3695.98,660.96 3708.59,664.71 3721.21,666.80 3733.82,660.02 3746.44,658.13 3759.06,662.44 3771.67,668.18 3784.29,681.07 3796.90,696.91 3809.52,712.38 3822.14,748.06 3834.75,779.21 3847.37,808.37 3859.98,823.98 3872.60,845.73 3885.22,867.78 3897.83,888.88 3910.45,909.47 3923.06,937.05 3935.68,961.53 3948.30,983.85 3960.91,1003.97 3973.53,1031.66 3986.14,1053.56 3998.76,1073.53 4011.38,1081.03 4023.99,1088.61 4036.61,1103.86 4049.22,1115.93 4061.84,1128.06 4074.46,1144.10 4087.07,1152.53 4099.69,1171.87 4112.30,1199.79 4124.92,1231.96 4137.54,1255.41 4150.15,1285.71" fill="none" stroke="#ffa500" stroke-width="5" stroke-linejoin="round" stroke-linecap="square"/>
<polyline points="1034.00,1642.80 1046.62,1645.73 1059.23,1650.54 1071.85,1657.14 1084.46,1664.89 1097.08,1671.07 1109.70,1675.75 1122.31,1681.02 1134.93,1687.32 1147.54,1692.94 1160.16,1690.69 1172.78,1687.75 1185.39,1687.08 1198.01,1686.08 1210.62,1686.56 1223.24,1685.98 1235.86,1682.81 1248.47,1680.29 1261.09,1679.42 1273.70,1678.95 1286.32,1678.63 1298.94,1677.21 1311.55,1675.98 1324.17,1671.89 1336.78,1668.24 1349.40,1663.08 1362.02,1657.57 1374.63,1651.66 1387.25,1647.38 1399.86,1642.52 1412.48,1639.15 1425.10,1638.39 1437.71,1641.57 1450.33,1645.74 1462.94,1648.27 1475.56,1651.23 1488.18,1651.65 1500.79,1647.70 1513.41,1638.73 1526.02,1633.37 1538.64,1627.38 1551.26,1619.79 1563.87,1610.94 1576.49,1603.95 1589.10,1597.29 1601.72,1589.99 1614.34,1581.95 1626.95,1573.66 1639.57,1565.52 1652.18,1555.46 1664.80,1547.09 1677.42,1537.35 1690.03,1528.18 1702.65,1515.74 1715.26,1503.81 1727.88,1491.71 1740.50,1481.87 1753.11,1472.22 1765.73,1462.36 1778.34,1453.09 1790.96,1444.35 1803.58,1436.21 1816.19,1424.56 1828.81,1413.90 1841.42,1402.15 1854.04,1388.85 1866.66,1377.86 1879.27,1366.93 1891.89,1356.58 1904.50,1343.14 1917.12,1330.51 1929.74,1317.41 1942.35,1306.25 1954.97,1294.35 1967.58,1281.52 1980.20,1270.08 1992.82,1262.31 2005.43,1259.34 2018.05,1254.13 2030.66,1250.01 2043.28,1246.67 2055.90,1239.91 2068.51,1232.90 2081.13,1226.97 2093.74,1219.42 2106.36,1206.83 2118.98,1193.91 2131.59,1178.50 2144.21,1165.81 2156.82,1153.06 2169.44,1141.92 2182.06,1127.53 2194.67,1115.12 2207.29,1102.94 2219.90,1089.47 2232.52,1077.49 2245.14,1065.05 2257.75,1053.33 2270.37,1041.97 2282.98,1031.57 2295.60,1023.04 2308.22,1018.70 2320.83,1012.03 2333.45,1005.83 2346.06,996.52 2358.68,986.44 2371.30,977.40 2383.91,968.45 2396.53,963.97 2409.14,960.54 2421.76,954.74 2434.38,950.65 2446.99,944.07 2459.61,940.80 2472.22,937.26 2484.84,933.67 2497.46,933.06 2510.07,928.20 2522.69,925.42 2535.30,921.61 2547.92,917.81 2560.54,913.20 2573.15,906.17 2585.77,902.84 2598.38,897.24 2611.00,887.88 2623.62,880.43 2636.23,874.59 2648.85,865.55 2661.46,857.86 2674.08,849.30 2686.70,841.52 2699.31,830.51 2711.93,819.99 2724.54,811.59 2737.16,804.74 2749.78,798.41 2762.39,793.65 2775.01,794.48 2787.62,795.71 2800.24,793.80 2812.86,792.52 2825.47,785.83 2838.09,783.20 2850.70,777.98 2863.32,770.93 2875.94,765.72 2888.55,761.73 2901.17,756.80 2913.78,754.45 2926.40,748.72 2939.02,743.04 2951.63,733.52 2964.25,725.75 2976.86,717.10 2989.48,707.77 3002.10,702.73 3014.71,697.93 3027.33,690.33 3039.94,682.77 3052.56,674.55 3065.18,664.21 3077.79,654.73 3090.41,646.04 3103.02,638.95 3115.64,632.24 3128.26,623.33 3140.87,614.19 3153.49,607.30 3166.10,601.10 3178.72,594.37 3191.34,590.28 3203.95,592.25 3216.57,591.78 3229.18,592.04 3241.80,592.82 3254.42,592.39 3267.03,589.38 3279.65,589.63 3292.26,590.03 3304.88,588.37 3317.50,590.10 3330.11,592.06 3342.73,595.30 3355.34,599.06 3367.96,604.53 3380.58,604.37 3393.19,608.14 3405.81,612.84 3418.42,614.77 3431.04,615.66 3443.66,618.92 3456.27,620.74 3468.89,625.56 3481.50,626.33 3494.12,624.43 3506.74,621.78 3519.35,625.39 3531.97,629.32 3544.58,630.15 3557.20,631.97 3569.82,633.29 3582.43,637.11 3595.05,640.00 3607.66,642.44 3620.28,644.63 3632.90,645.94 3645.51,645.21 3658.13,643.87 3670.74,645.24 3683.36,645.55 3695.98,646.26 3708.59,648.45 3721.21,650.02 3733.82,647.95 3746.44,647.72 3759.06,649.97 3771.67,652.90 3784.29,658.87 3796.90,666.34 3809.52,673.98 3822.14,690.25 3834.75,705.42 3847.37,720.39 3859.98,730.35 3872.60,743.05 3885.22,756.24 3897.83,769.37 3910.45,782.62 3923.06,799.03 3935.68,814.60 3948.30,829.63 3960.91,844.04 3973.53,861.80 3986.14,877.56 3998.76,892.76 4011.38,903.03 4023.99,913.21 4036.61,926.45 4049.22,938.47 4061.84,950.51 4074.46,964.16 4087.07,974.77 4099.69,989.79 4112.30,1008.52 4124.92,1029.35 4137.54,1047.04 4150.15,1067.78" fill="none" stroke="#008000" stroke-width="5" stroke-linejoin="round" stroke-linecap="square"/>
<polyline points="1034.00,1753.40 1046.62,1753.02 1059.23,1753.15 1071.85,1753.78 1084.46,1754.76 1097.08,1755.41 1109.70,1755.73 1122.31,1756.24 1134.93,1757.07 1147.54,1757.77 1160.16,1756.52 1172.78,1755.09 1185.39,1754.21 1198.01,1753.26 1210.62,1752.68 1223.24,1751.83 1235.86,1750.34 1248.47,1748.99 1261.09,1748.05 1273.70,1747.21 1286.32,1746.41 1298.94,1745.34 1311.55,1744.31 1324.17,1742.55 1336.78,1740.88 1349.40,1738.81 1362.02,1736.62 1374.63,1734.29 1387.25,1732.34 1399.86,1730.22 1412.48,1728.45 1425.10,1727.32 1437.71,1727.20 1450.33,1727.36 1462.94,1727.14 1475.56,1727.06 1488.18,1726.37 1500.79,1724.58 1513.41,1721.49 1526.02,1719.26 1538.64,1716.84 1551.26,1713.97 1563.87,1710.74 1576.49,1707.92 1589.10,1705.15 1601.72,1702.17 1614.34,1698.96 1626.95,1695.64 1639.57,1692.31 1652.18,1688.44 1664.80,1684.94 1677.42,1681.07 1690.03,1677.29 1702.65,1672.63 1715.26,1668.01 1727.88,1663.28 1740.50,1659.05 1753.11,1654.81 1765.73,1650.47 1778.34,1646.22 1790.96,1642.05 1803.58,1637.99 1816.19,1633.00 1828.81,1628.19 1841.42,1623.05 1854.04,1617.45 1866.66,1612.36 1879.27,1607.23 1891.89,1602.18 1904.50,1596.30 1917.12,1590.54 1929.74,1584.60 1942.35,1579.08 1954.97,1573.32 1967.58,1567.26 1980.20,1561.48 1992.82,1556.58 2005.43,1552.87 2018.05,1548.60 2030.66,1544.59 2043.28,1540.78 2055.90,1536.11 2068.51,1531.35 2081.13,1526.85 2093.74,1521.92 2106.36,1515.68 2118.98,1509.30 2131.59,1502.22 2144.21,1495.75 2156.82,1489.19 2169.44,1482.99 2182.06,1475.91 2194.67,1469.27 2207.29,1462.62 2219.90,1455.59 2232.52,1448.87 2245.14,1441.99 2257.75,1435.23 2270.37,1428.51 2282.98,1421.99 2295.60,1415.91 2308.22,1410.84 2320.83,1405.19 2333.45,1399.64 2346.06,1393.30 2358.68,1386.73 2371.30,1380.40 2383.91,1374.06 2396.53,1368.82 2409.14,1363.86 2421.76,1358.31 2434.38,1353.19 2446.99,1347.45 2459.61,1342.54 2472.22,1337.58 2484.84,1332.62 2497.46,1328.43 2510.07,1323.20 2522.69,1318.50 2535.30,1313.55 2547.92,1308.62 2560.54,1303.49 2573.15,1297.75 2585.77,1292.95 2598.38,1287.57 2611.00,1281.24 2623.62,1275.37 2636.23,1269.88 2648.85,1263.58 2661.46,1257.60 2674.08,1251.38 2686.70,1245.33 2699.31,1238.44 2711.93,1231.64 2724.54,1225.34 2737.16,1219.41 2749.78,1213.60 2762.39,1208.18 2775.01,1204.19 2787.62,1200.35 2800.24,1195.76 2812.86,1191.36 2825.47,1185.61 2838.09,1180.89 2850.70,1175.53 2863.32,1169.70 2875.94,1164.33 2888.55,1159.27 2901.17,1153.98 2913.78,1149.35 2926.40,1143.88 2939.02,1138.49 2951.63,1132.12 2964.25,1126.16 2976.86,1119.96 2989.48,1113.56 3002.10,1108.22 3014.71,1102.95 3027.33,1096.97 3039.94,1090.98 3052.56,1084.82 3065.18,1078.09 3077.79,1071.55 3090.41,1065.17 3103.02,1059.19 3115.64,1053.28 3128.26,1046.81 3140.87,1040.26 3153.49,1034.25 3166.10,1028.41 3178.72,1022.43 3191.34,1017.12 3203.95,1013.35 3216.57,1009.02 3229.18,1004.92 3241.80,1000.99 3254.42,996.80 3267.03,991.99 3279.65,988.03 3292.26,984.15 3304.88,979.79 3317.50,976.32 3330.11,972.96 3342.73,969.97 3355.34,967.18 3367.96,964.88 3380.58,961.24 3393.19,958.63 3405.81,956.32 3418.42,953.37 3431.04,950.21 3443.66,947.69 3456.27,944.87 3468.89,942.85 3481.50,939.87 3494.12,936.25 3506.74,932.46 3519.35,930.27 3531.97,928.22 3544.58,925.44 3557.20,922.95 3569.82,920.36 3582.43,918.44 3595.05,916.35 3607.66,914.19 3620.28,912.01 3632.90,909.65 3645.51,906.81 3658.13,903.84 3670.74,901.57 3683.36,899.07 3695.98,896.69 3708.59,894.73 3721.21,892.64 3733.82,889.68 3746.44,887.18 3759.06,885.34 3771.67,883.71 3784.29,882.90 3796.90,882.54 3809.52,882.29 3822.14,884.32 3834.75,886.21 3847.37,888.23 3859.98,889.12 3872.60,890.79 3885.22,892.70 3897.83,894.70 3910.45,896.85 3923.06,899.91 3935.68,902.89 3948.30,905.85 3960.91,908.78 3973.53,912.68 3986.14,916.21 3998.76,919.71 4011.38,922.09 4023.99,924.52 4036.61,927.80 4049.22,930.87 4061.84,934.04 4074.46,937.71 4087.07,940.70 4099.69,944.89 4112.30,950.13 4124.92,956.04 4137.54,961.30 4150.15,967.45" fill="none" stroke="#ff0000" stroke-width="5" stroke-linejoin="round" stroke-linecap="square"/>
<rect x="1749.5" y="2245" width="1684.6" height="87.6" rx="10" fill="#fff" stroke="#d6d6d6" stroke-width="4"/>
<line x1="1764.8" y1="2285.9" x2="1873.1" y2="2285.9" stroke="#0000ff" stroke-width="8.4"/>
<g filter="url(#gs)"><text x="1909.38" y="2303.30" font-size="52.14" textLength="187.80" lengthAdjust="spacingAndGlyphs" fill="#000">10 EMA</text></g>
<line x1="2194" y1="2285.9" x2="2302.3" y2="2285.9" stroke="#ffa500" stroke-width="8.4"/>
<g filter="url(#gs)"><text x="2337.96" y="2303.30" font-size="52.14" textLength="187.72" lengthAdjust="spacingAndGlyphs" fill="#000">20 EMA</text></g>
<line x1="2622" y1="2285.9" x2="2730.3" y2="2285.9" stroke="#008000" stroke-width="8.4"/>
<g filter="url(#gs)"><text x="2765.79" y="2303.30" font-size="52.14" textLength="187.89" lengthAdjust="spacingAndGlyphs" fill="#000">50 EMA</text></g>
<line x1="3050.9" y1="2285.9" x2="3159.2000000000003" y2="2285.9" stroke="#ff0000" stroke-width="8.4"/>
<g filter="url(#gs)"><text x="3193.62" y="2303.30" font-size="52.14" textLength="220.56" lengthAdjust="spacingAndGlyphs" fill="#000">200 EMA</text></g>
<g fill="#3b3b3b">
<rect x="29.9" y="1727.2" width="23.8" height="4.3"/><rect x="38.9" y="1727.2" width="6.2" height="22.5"/>
<rect x="59" y="1727.2" width="4.6" height="22.5"/><rect x="59" y="1727.2" width="21.2" height="4.3"/><rect x="59" y="1735.9" width="20.4" height="3.4"/><rect x="59" y="1745.4" width="22.7" height="4.3"/>
<rect x="113.4" y="1727.2" width="5.2" height="22.5"/><rect x="133.8" y="1727.2" width="5.0" height="22.5"/><rect x="113.4" y="1736.4" width="25.4" height="4.2"/>
</g>
<path d="M108.1,1729.35 H92.5 Q87.3,1729.35 87.3,1734.5 V1742.4 Q87.3,1747.55 92.5,1747.55 H108.1" fill="none" stroke="#3b3b3b" stroke-width="4.3"/>
<g fill="none" stroke="#e4112f" stroke-width="5.3">
<path d="M32.2,1792.6 V1771.6 H68.2 Q71.8,1771.6 71.8,1775.2 V1792.6 M51.2,1771.6 V1792.6"/>
<path d="M84,1771.6 H104.2 Q107.8,1771.6 107.8,1775.2 V1790.2 H82.7 V1782.8"/>
<path d="M119.2,1760.5 V1792.6 M119.2,1771.6 H138.8 Q142.4,1771.6 142.4,1775.2 V1792.6"/>
<path d="M156.2,1769.2 V1792.8"/>
<path d="M168,1792.8 V1771.6 H188.6 Q192.2,1771.6 192.2,1775.2 V1792.8"/>
<path d="M222.4,1771.6 H206.8 Q203.2,1771.6 203.2,1775.2 V1790.2 H229.1 M229.1,1760.5 V1792.8"/>
<path d="M242.4,1792.8 V1775.2 Q242.4,1771.6 246,1771.6 H260"/>
<path d="M263.5,1771.6 H283.5 Q287.1,1771.6 287.1,1775.2 V1790.2 H261.5 V1782.8"/>
</g>
<g fill="none" stroke="#e4112f" stroke-width="3.4">
<path d="M82.7,1782.8 Q82.7,1780.5 85,1780.5 H97.9"/><path d="M261.5,1782.8 Q261.5,1780.7 263.6,1780.7 H276.6"/>
</g>
<polygon points="153.2,1765.7 156.8,1760.5 159.3,1760.5 159.3,1765.7" fill="#e4112f"/>
</svg></body></html>
